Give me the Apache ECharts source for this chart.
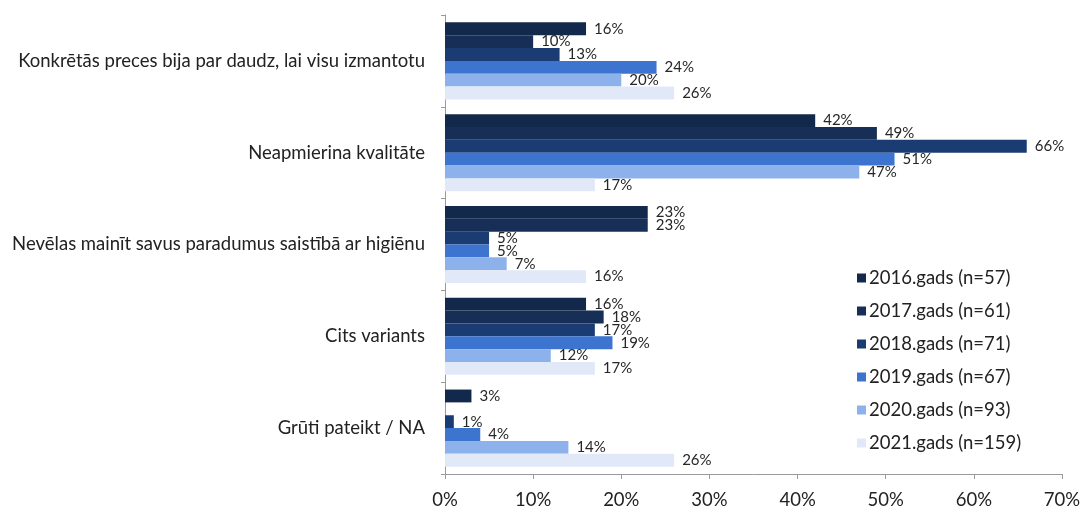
<!DOCTYPE html>
<html>
<head>
<meta charset="utf-8">
<script src="https://cdn.jsdelivr.net/npm/echarts@6/dist/echarts.min.js"></script>
<style>
  html, body { margin: 0; padding: 0; background: #ffffff; }
  #chart { width: 1088px; height: 510px; }
</style>
</head>
<body>
<div id="chart"></div>
<script>
// Reasons, top to bottom
const categories = [
  'Konkrētās preces bija par daudz, lai visu izmantotu',
  'Neapmierina kvalitāte',
  'Nevēlas mainīt savus paradumus saistībā ar higiēnu',
  'Cits variants',
  'Grūti pateikt / NA'
];

// Share of respondents (%) per survey year
const years = [
  '2016.gads (n=57)',
  '2017.gads (n=61)',
  '2018.gads (n=71)',
  '2019.gads (n=67)',
  '2020.gads (n=93)',
  '2021.gads (n=159)'
];
const values2016 = [16, 42, 23, 16, 3];
const values2017 = [10, 49, 23, 18, null];
const values2018 = [13, 66, 5, 17, 1];
const values2019 = [24, 51, 5, 19, 4];
const values2020 = [20, 47, 7, 12, 14];
const values2021 = [26, 17, 16, 17, 26];

const xTicks = [0, 10, 20, 30, 40, 50, 60, 70];

const seriesValues = [values2016, values2017, values2018, values2019, values2020, values2021];
const colors = ['#13294b', '#172e57', '#1b3b73', '#3c74cf', '#8db2eb', '#e1e9f8'];

const FONT = 'Lato, "Open Sans", sans-serif';

const chart = echarts.init(document.getElementById('chart'), null, { renderer: 'canvas' });

chart.setOption({
  animation: false,
  backgroundColor: '#ffffff',
  textStyle: { fontFamily: FONT },
  grid: { left: 445, right: 26, top: 15, bottom: 34, containLabel: false },
  legend: {
    orient: 'vertical',
    left: 852,
    top: 262,
    itemWidth: 9,
    itemHeight: 9,
    itemGap: 11,
    icon: 'rect',
    data: years,
    textStyle: { fontFamily: FONT, fontSize: 18.5, lineHeight: 22, color: '#222222', padding: [0, 0, 0, -2] }
  },
  xAxis: {
    type: 'value',
    min: xTicks[0],
    max: xTicks[xTicks.length - 1],
    interval: 10,
    axisLine: { show: true, lineStyle: { color: '#9a9a9a', width: 1 } },
    axisTick: { show: true, length: 5, lineStyle: { color: '#9a9a9a' } },
    splitLine: { show: false },
    axisLabel: {
      formatter: '{value}%',
      fontFamily: FONT,
      fontSize: 18.5,
      color: '#222222',
      margin: 17
    }
  },
  yAxis: {
    type: 'category',
    inverse: true,
    data: categories,
    axisLine: { show: true, lineStyle: { color: '#9a9a9a', width: 1 } },
    axisTick: { show: true, length: 4, lineStyle: { color: '#9a9a9a' } },
    axisLabel: {
      fontFamily: FONT,
      fontSize: 18.5,
      color: '#222222',
      margin: 20
    }
  },
  series: years.map((name, i) => ({
    name: name,
    type: 'bar',
    data: seriesValues[i],
    barGap: '0%',
    barCategoryGap: '16%',
    itemStyle: { color: colors[i] },
    label: {
      show: true,
      position: 'right',
      distance: 8,
      formatter: p => (p.value == null ? '' : p.value + '%'),
      fontFamily: FONT,
      fontSize: 15,
      color: '#262626'
    }
  }))
});
</script>
</body>
</html>
